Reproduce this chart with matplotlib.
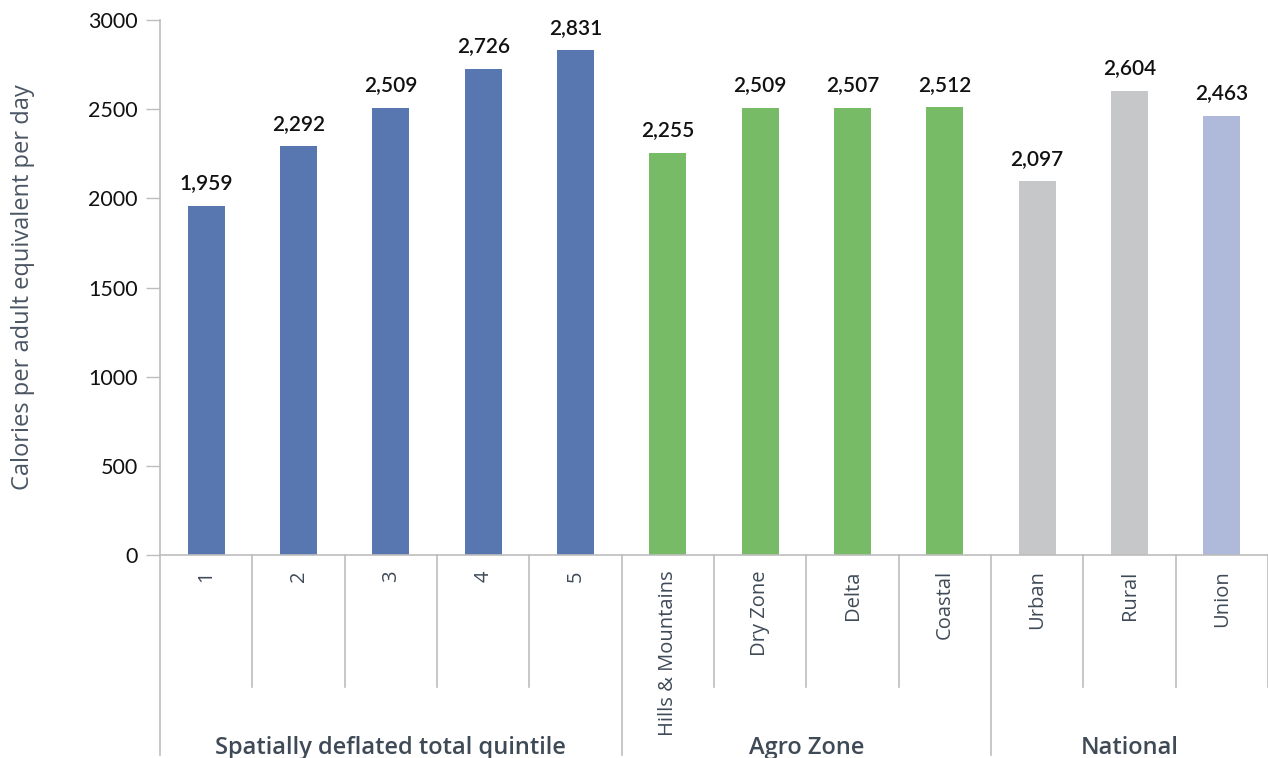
import matplotlib.pyplot as plt
import matplotlib.transforms as mtransforms

# Calorie intake by group
categories = ['1', '2', '3', '4', '5',
              'Hills & Mountains', 'Dry Zone', 'Delta', 'Coastal',
              'Urban', 'Rural', 'Union']
values = [1959, 2292, 2509, 2726, 2831,
          2255, 2509, 2507, 2512,
          2097, 2604, 2463]
groups = ['Spatially deflated total quintile', 'Agro Zone', 'National']
group_sizes = [5, 4, 3]

blue = '#5876B0'
green = '#77BB66'
grey = '#C6C7C8'
lilac = '#AFBADB'
colors = [blue] * 5 + [green] * 4 + [grey, grey, lilac]

line_col = '#BDBDBD'
text_dark = '#3F4A57'

fig = plt.figure(figsize=(12.68, 7.58), dpi=100)
ax = fig.add_axes([0.1262, 0.2678, 0.8738, 0.7058])

x = list(range(len(categories)))
ax.bar(x, values, width=0.4, color=colors, zorder=2)

for xi, v in zip(x, values):
    ax.annotate(f'{v:,}', (xi, v), textcoords='offset points', xytext=(0, 9),
                ha='center', va='bottom', fontsize=15, fontfamily='Lato',
                fontweight='semibold', color='#111111')

ax.set_xlim(-0.5, len(categories) - 0.5)
ax.set_ylim(0, 3000)
ax.set_yticks(range(0, 3001, 500))
ax.tick_params(axis='y', labelsize=15.5, length=10, width=1, color=line_col,
               labelcolor='#111111', pad=6)
for lab in ax.get_yticklabels():
    lab.set_fontfamily('Lato')

ax.set_xticks(x)
ax.set_xticklabels(categories, rotation=90, fontsize=14.5, fontfamily='Open Sans',
                   color=text_dark, va='top')
ax.tick_params(axis='x', length=0, pad=11)

for side in ['top', 'right']:
    ax.spines[side].set_visible(False)
ax.spines['left'].set_color(line_col)
ax.spines['bottom'].set_color(line_col)
ax.spines['left'].set_linewidth(1.2)
ax.spines['bottom'].set_linewidth(1.2)

ax.set_ylabel('Calories per adult equivalent per day', fontsize=17,
              fontfamily='Open Sans', color='#4A5563', labelpad=38)

# Two-level category axis: short dividers between items, long ones between groups
trans = mtransforms.blended_transform_factory(ax.transData, ax.transAxes)
start = 0
for name, n in zip(groups, group_sizes):
    left = start - 0.5
    ax.plot([left, left], [0, -0.374], transform=trans, color=line_col,
            lw=1.2, clip_on=False)
    for k in range(1, n):
        xd = left + k
        ax.plot([xd, xd], [0, -0.247], transform=trans, color=line_col,
                lw=1.2, clip_on=False)
    ax.text(left + n / 2, -0.36, name, transform=trans, ha='center', va='center',
            fontsize=17, fontfamily='Open Sans', fontweight='semibold',
            color=text_dark)
    start += n
right = start - 0.5
ax.plot([right, right], [0, -0.247], transform=trans, color=line_col,
        lw=1.2, clip_on=False)

fig.savefig('out.png', dpi=100)
